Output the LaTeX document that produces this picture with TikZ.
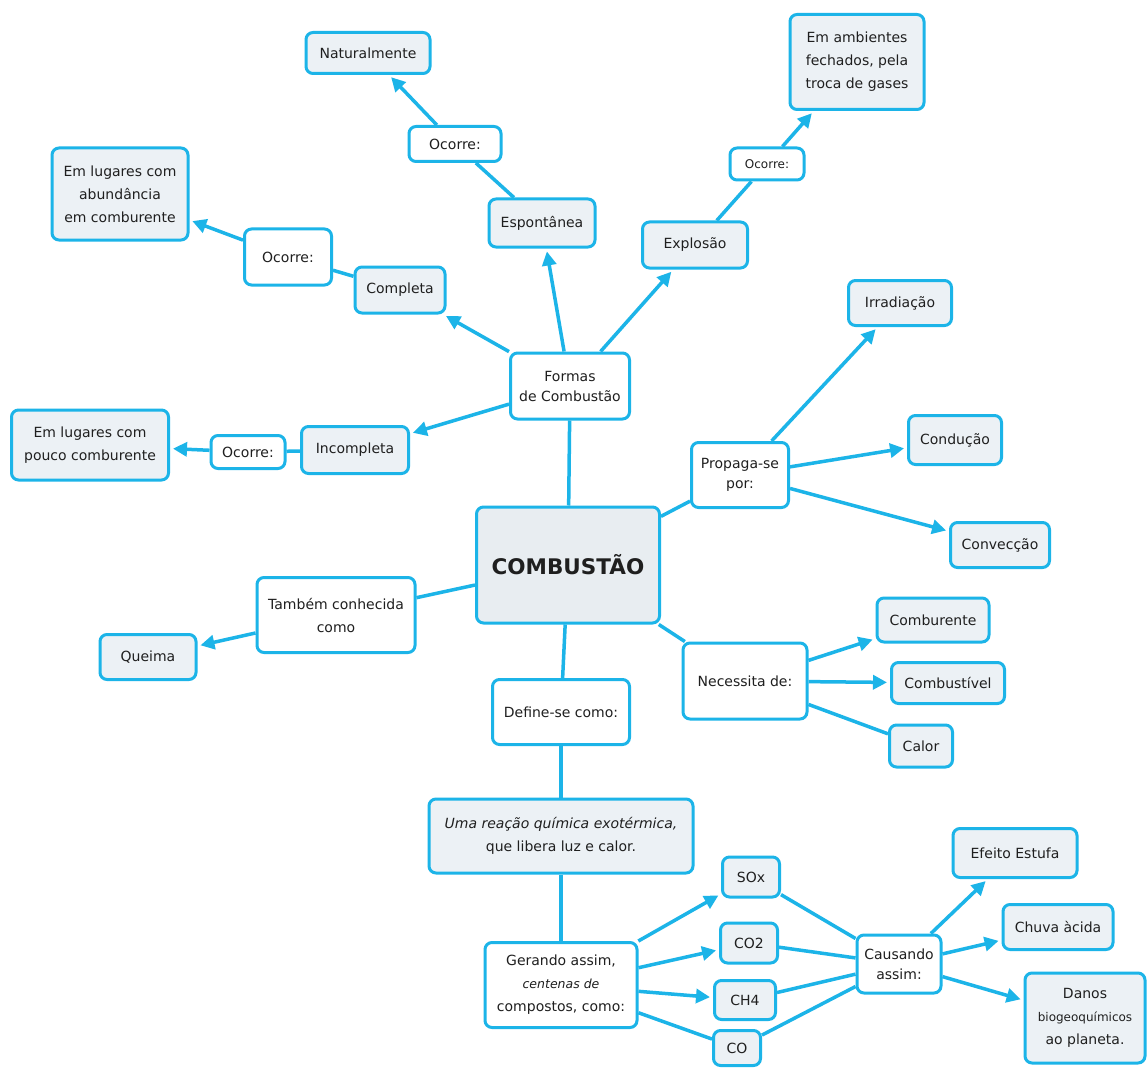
\documentclass[tikz,border=0pt]{standalone}
\usepackage{fontspec}
\setmainfont{DejaVu Sans}
\usetikzlibrary{arrows.meta}
\definecolor{mapblue}{RGB}{28,180,232}
\definecolor{leaf}{RGB}{236,241,245}
\definecolor{core}{RGB}{232,237,241}
\begin{document}
\begin{tikzpicture}[x=1pt,y=1pt,
  base/.style={draw=mapblue, line width=3pt, rounded corners=7pt, align=center,
    font=\fontsize{14}{23}\selectfont, text=black!88, inner sep=2pt},
  leafbox/.style={base, fill=leaf},
  linkbox/.style={base, fill=white},
  wh/.style 2 args={minimum width=#1pt, minimum height=#2pt},
  conn/.style={draw=mapblue, line width=3.5pt},
  arr/.style={conn, -{Triangle[length=14pt,width=14pt]}, shorten >=3pt},
  smallfont/.style={font=\fontsize{12}{15}\selectfont}
]
\useasboundingbox (0,0) rectangle (1147,-1067);
\fill[white] (0,0) rectangle (1147,-1067);

% nodes
\node[leafbox, wh={124}{41}] (nat) at (368,-53) {Naturalmente};
\node[linkbox, wh={92}{35}] (oc1) at (455,-144) {Ocorre:};
\node[leafbox, wh={136}{92}] (abund) at (120,-194) {Em lugares com\\abundância\\em comburente};
\node[linkbox, wh={87}{56}] (oc2) at (288,-257) {Ocorre:};
\node[leafbox, wh={90}{46}] (compl) at (400,-290) {Completa};
\node[leafbox, wh={106}{48}] (espon) at (542,-223) {Espontânea};
\node[leafbox, wh={105}{46}] (explo) at (695,-245) {Explosão};
\node[linkbox, wh={74}{32}, smallfont] (oc3) at (767,-164) {Ocorre:};
\node[leafbox, wh={134}{95}] (amb) at (857,-62) {Em ambientes\\fechados, pela\\troca de gases};
\node[linkbox, wh={119}{66}, font=\fontsize{14}{20}\selectfont] (formas) at (570,-386) {Formas\\de Combustão};
\node[leafbox, wh={183}{116}, fill=core, font=\bfseries\fontsize{21.5}{26}\selectfont] (comb) at (568,-565) {COMBUSTÃO};
\node[leafbox, wh={157}{70}] (pouco) at (90,-445) {Em lugares com\\pouco comburente};
\node[linkbox, wh={74}{33}] (oc4) at (248,-452) {Ocorre:};
\node[leafbox, wh={107}{47}] (incom) at (355,-450) {Incompleta};
\node[linkbox, wh={158}{75}] (tamb) at (336,-615) {Também conhecida\\como};
\node[leafbox, wh={96}{45}] (queima) at (148,-657) {Queima};
\node[linkbox, wh={97}{65}, font=\fontsize{14}{20}\selectfont] (prop) at (740,-475) {Propaga-se\\por:};
\node[leafbox, wh={103}{45}] (irrad) at (900,-303) {Irradiação};
\node[leafbox, wh={93}{49}] (cond) at (955,-440) {Condução};
\node[leafbox, wh={99}{45}] (conv) at (1000,-545) {Convecção};
\node[linkbox, wh={124}{76}] (nec) at (745,-681) {Necessita de:};
\node[leafbox, wh={112}{44}] (combur) at (933,-620) {Comburente};
\node[leafbox, wh={113}{41}] (combus) at (948,-683) {Combustível};
\node[leafbox, wh={63}{42}] (calor) at (921,-746) {Calor};
\node[linkbox, wh={137}{65}] (def) at (561,-712) {Define-se como:};
\node[leafbox, wh={264}{74}] (reac) at (561,-836) {\textit{Uma reação química exotérmica,}\\que libera luz e calor.};
\node[linkbox, wh={152}{85}] (ger) at (561,-985) {Gerando assim,\\{\itshape\fontsize{12.5}{15}\selectfont centenas de}\\compostos, como:};
\node[leafbox, wh={57}{40}] (sox) at (751,-877) {SOx};
\node[leafbox, wh={57}{40}] (co2) at (749,-943) {CO2};
\node[leafbox, wh={61}{39}] (ch4) at (745,-1000) {CH4};
\node[leafbox, wh={47}{35}] (co) at (737,-1048) {CO};
\node[linkbox, wh={84}{58}, font=\fontsize{14}{20}\selectfont] (caus) at (899,-964) {Causando\\assim:};
\node[leafbox, wh={124}{49}] (efeito) at (1015,-853) {Efeito Estufa};
\node[leafbox, wh={110}{45}] (chuva) at (1058,-927) {Chuva àcida};
\node[leafbox, wh={120}{90}] (danos) at (1085,-1018) {Danos\\{\fontsize{12}{15}\selectfont biogeoquímicos}\\ao planeta.};

% connectors
\draw[conn] (comb) -- (formas);
\draw[arr] (formas) -- (compl);
\draw[arr] (formas) -- (espon);
\draw[arr] (formas) -- (explo);
\draw[arr] (formas) -- (incom);
\draw[conn] (compl) -- (oc2);
\draw[arr] (oc2) -- (abund);
\draw[conn] (espon) -- (oc1);
\draw[arr] (oc1) -- (nat);
\draw[conn] (explo) -- (oc3);
\draw[arr] (oc3) -- (amb);
\draw[conn] (incom) -- (oc4);
\draw[arr] (oc4) -- (pouco);
\draw[conn] (comb) -- (prop);
\draw[arr] (prop) -- (irrad);
\draw[arr] (prop) -- (cond);
\draw[arr] (prop) -- (conv);
\draw[conn] (comb) -- (nec);
\draw[arr] (nec) -- (combur);
\draw[arr] (nec) -- (combus);
\draw[conn] (nec) -- (calor);
\draw[conn] (comb) -- (tamb);
\draw[arr] (tamb) -- (queima);
\draw[conn] (comb) -- (def);
\draw[conn] (def) -- (reac);
\draw[conn] (reac) -- (ger);
\draw[arr] (ger) -- (sox);
\draw[arr] (ger) -- (co2);
\draw[arr] (ger) -- (ch4);
\draw[conn] (ger) -- (co);
\draw[conn] (sox) -- (caus);
\draw[conn] (co2) -- (caus);
\draw[conn] (ch4) -- (caus);
\draw[conn] (co) -- (caus);
\draw[arr] (caus) -- (efeito);
\draw[arr] (caus) -- (chuva);
\draw[arr] (caus) -- (danos);
\end{tikzpicture}
\end{document}
